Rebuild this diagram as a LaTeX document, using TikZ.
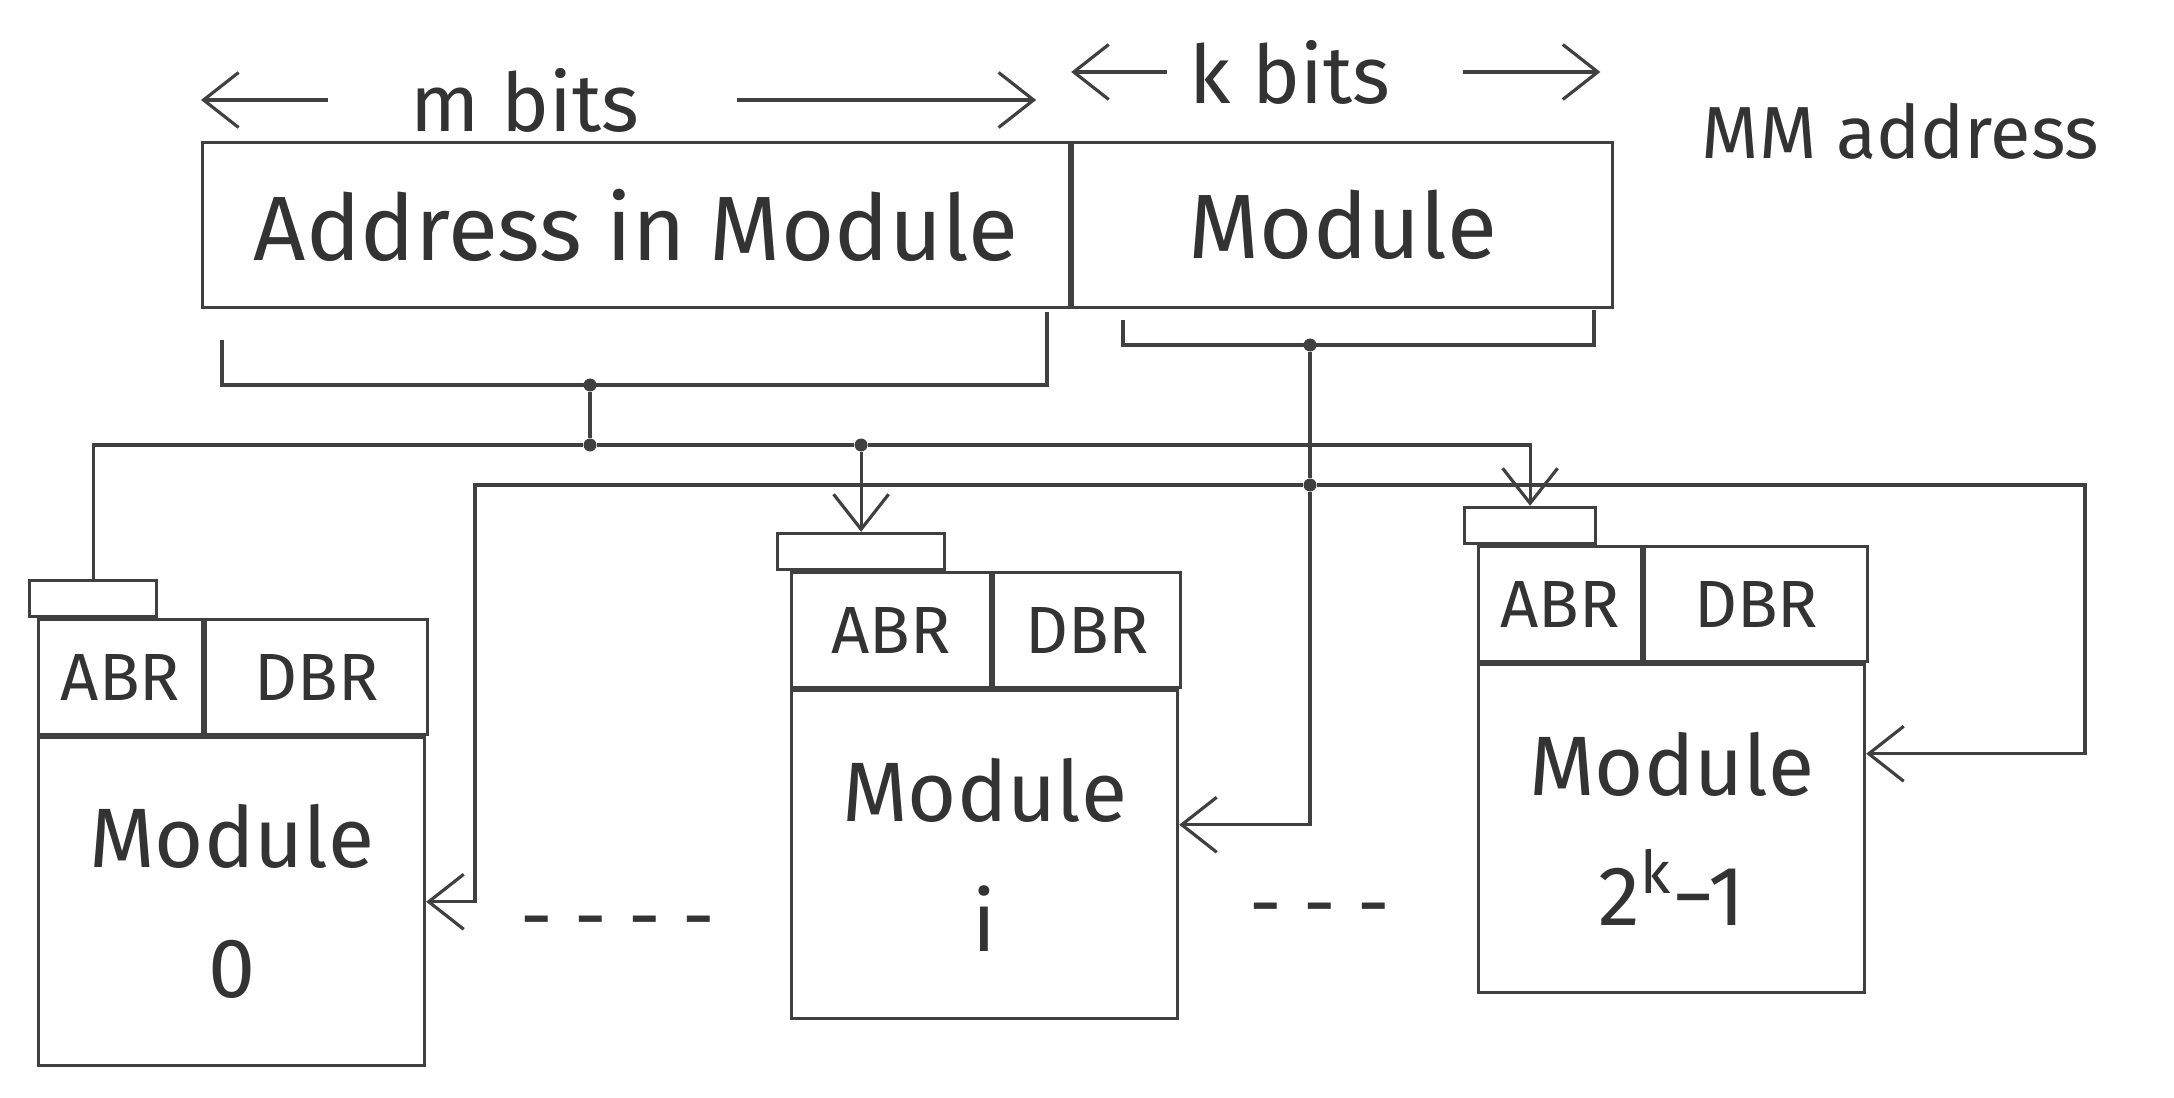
\documentclass[tikz,border=0pt]{standalone}
\usepackage{fontspec}
\setmainfont{Fira Sans}
\usetikzlibrary{arrows.meta, positioning}

\begin{document}
\begin{tikzpicture}[
  pen/.style={draw=black!75, line width=0.9pt},
  reg/.style={rectangle, pen, minimum height=1.65cm, inner sep=0pt,
              font=\fontsize{26}{30}\selectfont},
  hdr/.style={rectangle, pen, minimum height=1.15cm, inner sep=0pt,
              font=\fontsize{19}{22}\selectfont},
  body/.style={rectangle, pen, minimum width=3.86cm, minimum height=3.28cm,
               inner sep=0pt, align=center, font=\fontsize{24}{37}\selectfont},
  tab/.style={rectangle, pen, minimum height=0.36cm, inner sep=0pt},
  lbl/.style={font=\fontsize{23}{26}\selectfont},
  dot/.style={circle, fill=black!75, inner sep=0pt, minimum size=0.13cm},
  arrow/.style={pen, -{Straight Barb[length=3.5mm, width=5.5mm]}},
  text=black!80
]
\useasboundingbox (0,0) rectangle (21.74,-10.97);

% MM address register
\node[reg, minimum width=8.67cm, anchor=north west] (addr) at (2.01,-1.41)
      {Address in Module};
\node[reg, minimum width=5.40cm, right=0pt of addr] (modf) {Module};
\node[lbl, font=\fontsize{21}{24}\selectfont, right=0.75cm of modf.north east,
      yshift=1mm] (mma) {MM address};

% field widths
\node[lbl] (mbits) at (5.25,-1.0) {m bits};
\node[lbl] (kbits) at (12.9,-0.72) {k bits};
\draw[arrow, shorten <=0.7cm] (mbits) -- (mbits -| addr.west);
\draw[arrow, shorten <=0.85cm, shorten >=0.35cm] (mbits) -- (mbits -| addr.east);
\draw[arrow, shorten <=0.1cm] (kbits) -- (kbits -| modf.west);
\draw[arrow, shorten <=0.6cm, shorten >=0.14cm] (kbits) -- (kbits -| modf.east);

% Brackets under the two fields
\coordinate (aL) at (2.22,-3.40);
\coordinate (aR) at (10.47,-3.12);
\node[dot] (adot) at (5.9,-3.85) {};
\draw[pen] (aL) |- (adot.center) -| (aR);

\coordinate (kL) at (11.23,-3.20);
\coordinate (kR) at (15.94,-3.10);
\node[dot] (kdot) at (13.1,-3.45) {};
\draw[pen] (kL) |- (kdot.center) -| (kR);

% Module 0
\node[hdr, minimum width=1.64cm, anchor=north west] (abr0) at (0.37,-6.18) {ABR};
\node[hdr, minimum width=2.22cm, right=0pt of abr0] (dbr0) {DBR};
\node[body, below right=0pt of abr0.south west] (mod0) {Module\\0};
\node[tab, minimum width=1.27cm, above right=0pt and -0.09cm of abr0.north west] (tab0) {};

% Module i
\node[hdr, minimum width=1.99cm, anchor=north west] (abri) at (7.90,-5.71) {ABR};
\node[hdr, minimum width=1.87cm, right=0pt of abri] (dbri) {DBR};
\node[body, below right=0pt of abri.south west] (modi) {Module\\i};
\node[tab, minimum width=1.67cm, above right=0pt and -0.14cm of abri.north west] (tabi) {};

% Module 2^k-1
\node[hdr, minimum width=1.63cm, anchor=north west] (abrk) at (14.77,-5.45) {ABR};
\node[hdr, minimum width=2.23cm, right=0pt of abrk] (dbrk) {DBR};
\node[body, below right=0pt of abrk.south west] (modk) {Module\\2\textsuperscript{k}−1};
\node[tab, minimum width=1.31cm, above right=0pt and -0.14cm of abrk.north west] (tabk) {};

% gaps between modules
\node[lbl] (gapa) at (6.18,-9.30) {- - - -};
\node[lbl] (gapb) at (13.2,-9.17) {- - -};

% Address in module to every ABR
\node[dot] (mdot) at (5.9,-4.45) {};
\node[dot] (midot) at (tabi.north |- mdot) {};
\draw[pen] (adot) -- (mdot);
\draw[pen] (tab0.north) |- (mdot);
\draw[pen] (mdot) -- (midot);
\draw[arrow] (midot) -- (tabi.north);
\draw[arrow] (midot) -| (tabk.north);

% Module number to every module
\node[dot] (kbdot) at (13.1,-4.85) {};
\coordinate (kbL) at (4.75,-4.85);
\coordinate (kbR) at (20.85,-4.85);
\draw[pen] (kdot) -- (kbdot);
\draw[arrow] (kbdot) |- ([yshift=3mm]modi.east);
\draw[arrow] (kbdot) -- (kbL) |- (mod0.east);
\draw[arrow] (kbdot) -- (kbR) |- ([yshift=7.5mm]modk.east);
\end{tikzpicture}
\end{document}
